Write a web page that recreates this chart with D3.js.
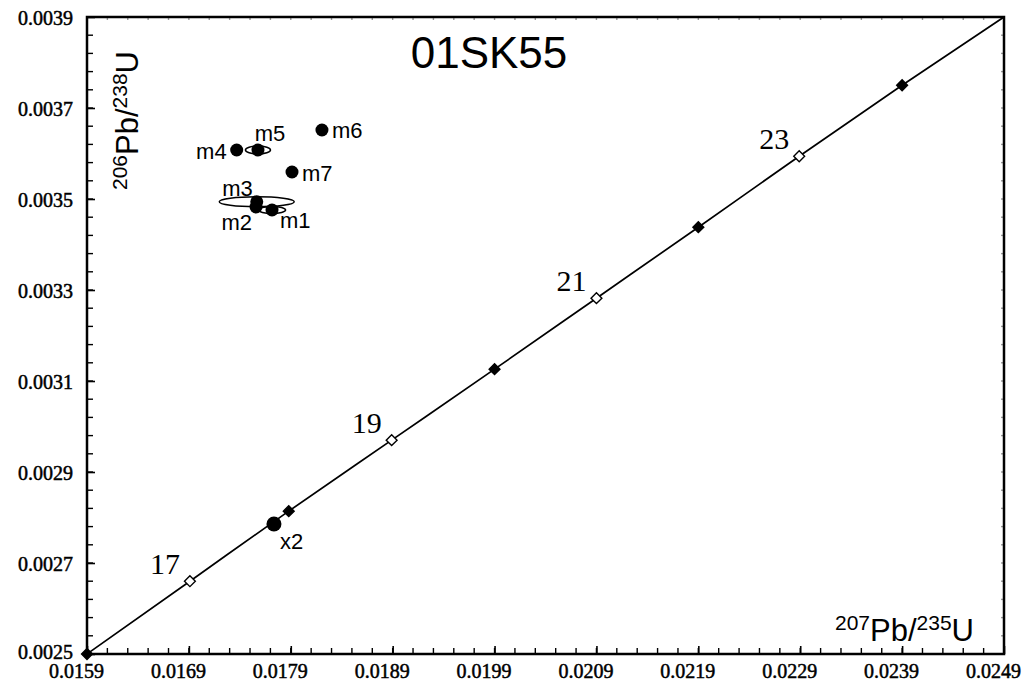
<!DOCTYPE html>
<html>
<head>
<meta charset="utf-8">
<script src="https://cdn.jsdelivr.net/npm/d3@7"></script>
<style>
  body { margin: 0; background: #fff; }
  svg { display: block; }
</style>
</head>
<body>
<svg id="chart"></svg>
<script>
const width = 1031;
const height = 688;
const margin = { top: 17, right: 27, bottom: 34, left: 87 };

// concordia age marks (Ma)
const ages = [16, 17, 18, 19, 20, 21, 22, 23, 24, 25];
const ageX = [0.0159, 0.01691, 0.01788, 0.01889, 0.01990, 0.02090, 0.02190, 0.02289, 0.02390, 0.0249];
const ageY = [0.0025, 0.00266, 0.002814, 0.00297, 0.003126, 0.003282, 0.003438, 0.003594, 0.00375, 0.0039];
const labelledAges = [17, 19, 21, 23];

// analyses
const names = ["m1", "m2", "m3", "m4", "m5", "m6", "m7", "x2"];
const ratio207 = [0.017716, 0.017559, 0.017566, 0.017369, 0.017578, 0.018206, 0.017912, 0.017735];
const ratio206 = [0.0034758, 0.0034824, 0.003494, 0.0036077, 0.0036077, 0.0036517, 0.0035593, 0.0027857];
const err207 = [0.000133, 0, 0.000368, 0, 0.000123, 0, 0, 0];
const err206 = [0.0000077, 0, 0.000011, 0, 0.0000088, 0, 0, 0];

const xTicks = [0.0159, 0.0169, 0.0179, 0.0189, 0.0199, 0.0209, 0.0219, 0.0229, 0.0239, 0.0249];
const yTicks = [0.0025, 0.0027, 0.0029, 0.0031, 0.0033, 0.0035, 0.0037, 0.0039];

const svg = d3.select("#chart").attr("width", width).attr("height", height);

const x = d3.scaleLinear().domain([0.0159, 0.0249]).range([margin.left, width - margin.right]);
const y = d3.scaleLinear().domain([0.0025, 0.0039]).range([height - margin.bottom, margin.top]);

const xMinor = d3.range(0, 46).map(i => 0.0159 + i * 0.0002);
const yMinor = d3.range(0, 36).map(i => 0.0025 + i * 0.00004);

// minor ticks, bottom/left and fainter top/right
const tk = svg.append("g").attr("stroke", "#000").attr("stroke-width", 1.4);
xMinor.forEach(v => {
  tk.append("line").attr("x1", x(v)).attr("x2", x(v))
    .attr("y1", y.range()[0]).attr("y2", y.range()[0] - 6);
  tk.append("line").attr("x1", x(v)).attr("x2", x(v))
    .attr("y1", y.range()[1]).attr("y2", y.range()[1] + 3).attr("stroke", "#999");
});
yMinor.forEach(v => {
  tk.append("line").attr("x1", x.range()[0]).attr("x2", x.range()[0] + 6)
    .attr("y1", y(v)).attr("y2", y(v));
  tk.append("line").attr("x1", x.range()[1]).attr("x2", x.range()[1] - 3)
    .attr("y1", y(v)).attr("y2", y(v)).attr("stroke", "#999");
});

// axes
const xAxis = svg.append("g")
  .attr("transform", `translate(0,${height - margin.bottom})`)
  .call(d3.axisBottom(x).tickValues(xTicks).tickFormat(d3.format(".4f")).tickSizeInner(-8).tickSizeOuter(0).tickPadding(10));
const yAxis = svg.append("g")
  .attr("transform", `translate(${margin.left},0)`)
  .call(d3.axisLeft(y).tickValues(yTicks).tickFormat(d3.format(".4f")).tickSizeInner(-8).tickSizeOuter(0).tickPadding(14));

[xAxis, yAxis].forEach(a => {
  a.select(".domain").remove();
  a.selectAll("line").attr("stroke-width", 1.6);
  a.selectAll("text")
    .attr("fill", "#000")
    .attr("stroke", "#000")
    .attr("stroke-width", 0.5)
    .style("font-family", "'Liberation Serif', 'Times New Roman', serif")
    .style("font-size", "20px");
});
yAxis.selectAll("text").attr("dy", d => d === 0.0025 ? "0.2em" : "0.35em");
xAxis.selectAll("text").attr("dx", -11);

// frame
svg.append("rect")
  .attr("x", x.range()[0]).attr("y", y.range()[1])
  .attr("width", x.range()[1] - x.range()[0])
  .attr("height", y.range()[0] - y.range()[1])
  .attr("fill", "none").attr("stroke", "#000").attr("stroke-width", 2.5);

// concordia
const line = d3.line().x((d, i) => x(ageX[i])).y((d, i) => y(ageY[i])).curve(d3.curveMonotoneX);
svg.append("path").datum(ages)
  .attr("d", line)
  .attr("fill", "none").attr("stroke", "#000").attr("stroke-width", 1.7);

const diamond = d3.symbol().type(d3.symbolDiamond2).size(75);
svg.selectAll(".age")
  .data(ages.slice(0, 9))
  .join("path")
  .attr("class", "age")
  .attr("transform", (d, i) => `translate(${x(ageX[i])},${y(ageY[i])})`)
  .attr("d", diamond)
  .attr("fill", d => d % 2 ? "#fff" : "#000")
  .attr("stroke", "#000")
  .attr("stroke-width", 1.4);

svg.selectAll(".agelabel")
  .data(labelledAges)
  .join("text")
  .attr("x", d => x(ageX[ages.indexOf(d)]) - 10)
  .attr("y", d => y(ageY[ages.indexOf(d)]) - 7)
  .attr("text-anchor", "end")
  .style("font-family", "'Liberation Serif', 'Times New Roman', serif")
  .style("font-size", "30px")
  .text(d => d);

// error ellipses + points
const pts = names.map((n, i) => ({ name: n, x: ratio207[i], y: ratio206[i], ex: err207[i], ey: err206[i] }));

svg.selectAll(".ell")
  .data(pts.filter(d => d.ex > 0))
  .join("ellipse")
  .attr("cx", d => x(d.x)).attr("cy", d => y(d.y))
  .attr("rx", d => x(d.x + d.ex) - x(d.x))
  .attr("ry", d => y(d.y) - y(d.y + d.ey))
  .attr("fill", "none").attr("stroke", "#000").attr("stroke-width", 1.5);

svg.selectAll(".pt")
  .data(pts)
  .join("circle")
  .attr("cx", d => x(d.x)).attr("cy", d => y(d.y))
  .attr("r", d => d.name === "x2" ? 7.5 : 6.5)
  .attr("fill", "#000");

const labelOffset = {
  m1: [8, 10, "start"], m2: [-4, 15, "end"], m3: [-4, -13, "end"], m4: [-10, 1, "end"],
  m5: [12, -17, "middle"], m6: [10, 0, "start"], m7: [10, 1, "start"], x2: [6, 17, "start"]
};
svg.selectAll(".ptlabel")
  .data(pts)
  .join("text")
  .attr("x", d => x(d.x) + labelOffset[d.name][0])
  .attr("y", d => y(d.y) + labelOffset[d.name][1])
  .attr("dy", "0.35em")
  .attr("text-anchor", d => labelOffset[d.name][2])
  .style("font-family", "'Liberation Sans', Arial, sans-serif")
  .style("font-size", "22px")
  .text(d => d.name);

// title
svg.append("text")
  .attr("x", 489).attr("y", 68)
  .attr("text-anchor", "middle")
  .style("font-family", "'Liberation Sans', Arial, sans-serif")
  .style("font-size", "44px")
  .text("01SK55");

// axis titles with superscripts
function ratioLabel(g, a, b, c, d) {
  g.append("tspan").attr("font-size", "21px").attr("dy", "-11").text(a);
  g.append("tspan").attr("font-size", "31px").attr("dy", "11").text(b);
  g.append("tspan").attr("font-size", "21px").attr("dy", "-11").text(c);
  g.append("tspan").attr("font-size", "31px").attr("dy", "11").text(d);
}
const xt = svg.append("text")
  .attr("x", 974).attr("y", 641)
  .attr("text-anchor", "end")
  .style("font-family", "'Liberation Sans', Arial, sans-serif");
ratioLabel(xt, "207", "Pb/", "235", "U");

const yt = svg.append("text")
  .attr("transform", "translate(138,190) rotate(-90)")
  .attr("text-anchor", "start")
  .style("font-family", "'Liberation Sans', Arial, sans-serif");
ratioLabel(yt, "206", "Pb/", "238", "U");
</script>
</body>
</html>
